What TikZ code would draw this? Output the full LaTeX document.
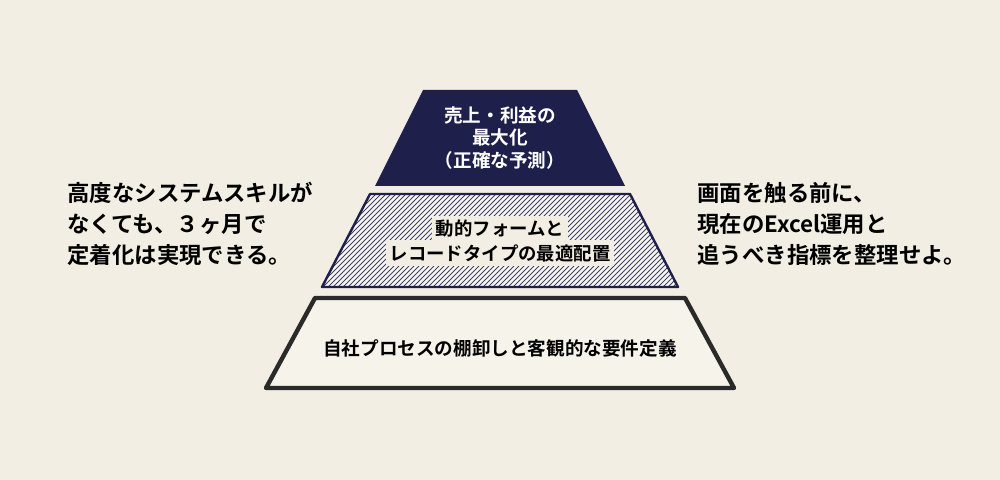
\documentclass[tikz,border=0pt]{standalone}
\usepackage{fontspec}
\setmainfont{Noto Sans CJK JP}[BoldFont={Noto Sans CJK JP Bold}]
\definecolor{bgc}{HTML}{F2EEE3}
\definecolor{navy}{HTML}{1E1F4B}
\definecolor{dk}{HTML}{2A2A2A}
\tikzset{
  side/.style={align=left, anchor=north west, font=\fontsize{11.2}{15.5}\selectfont\bfseries, text=black, inner sep=0pt},
  lbl/.style={align=center, font=\fontsize{9.3}{11.2}\selectfont\bfseries, inner sep=0pt},
  midlbl/.style={fill=bgc, font=\fontsize{9.2}{11}\selectfont\bfseries, inner xsep=2pt, inner ysep=2pt},
}
\begin{document}
\begin{tikzpicture}[x=0.5pt,y=-0.5pt]
\fill[bgc] (0,0) rectangle (1000,480);
\useasboundingbox (0,0) rectangle (1000,480);
% top tier
\fill[navy] (423,90) -- (577,90) -- (625,186) -- (375,186) -- cycle;
\node[lbl, text=white] (top) at (500,138) {売上・利益の\\最大化\\（正確な予測）};
% middle tier
\begin{scope}
\clip (370,194) -- (630,194) -- (678,287) -- (322,287) -- cycle;
\fill[bgc!50!white] (300,180) rectangle (700,300);
\foreach \i in {200,205,...,700} \draw[navy!85, line width=0.45pt] (\i,300) -- ++(120,-120);
\end{scope}
\draw[navy, line width=1.2pt, line join=round] (370,194) -- (630,194) -- (678,287) -- (322,287) -- cycle;
\node[midlbl] (m1) at (500,229) {動的フォームと};
\node[midlbl] (m2) at (500,253) {レコードタイプの最適配置};
% bottom tier
\draw[dk, line width=2.2pt, line join=round, fill=bgc!70!white] (315,298) -- (685,298) -- (734,388) -- (266,388) -- cycle;
\node[lbl, text=black] (bot) at (500,348) {自社プロセスの棚卸しと客観的な要件定義};
% side texts
\node[side] (left) at (67,182) {高度なシステムスキルが\\なくても、３ヶ月で\\定着化は実現できる。};
\node[side] (right) at (697,182) {画面を触る前に、\\現在のExcel運用と\\追うべき指標を整理せよ。};
\end{tikzpicture}
\end{document}
